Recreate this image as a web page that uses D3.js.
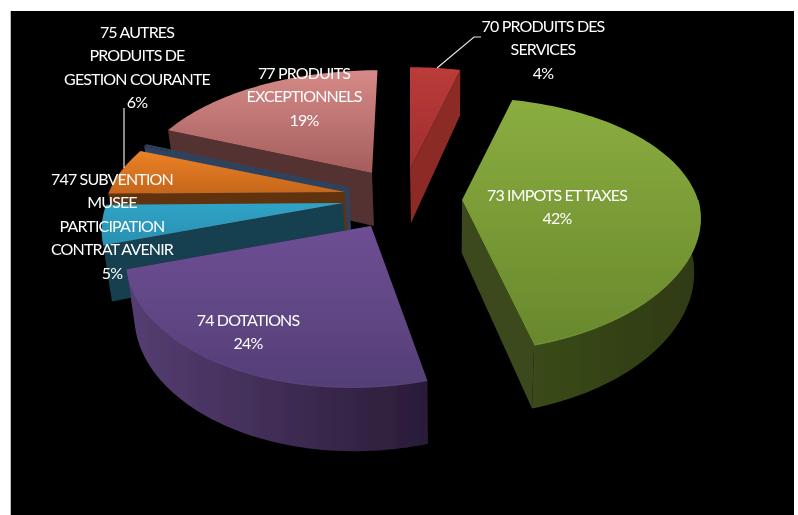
<!DOCTYPE html>
<html><head><meta charset="utf-8">
<style>html,body{margin:0;padding:0;background:#fff}svg{display:block}</style>
<script src="https://cdn.jsdelivr.net/npm/d3@7/dist/d3.min.js"></script>
</head><body><svg id="c" width="798" height="515"></svg>
<script>
// ---- data ----
const categories = ["70 PRODUITS DES SERVICES","73 IMPOTS ET TAXES","74 DOTATIONS","747 SUBVENTION MUSEE PARTICIPATION CONTRAT AVENIR","75 AUTRES PRODUITS DE GESTION COURANTE","","77 PRODUITS EXCEPTIONNELS"];
const values = [4,42,24,5,6,0.3,19];
const percentLabels = ["4%","42%","24%","5%","6%","","19%"];
const labelLines = [
  ["70 PRODUITS DES","SERVICES"],
  ["73 IMPOTS ET TAXES"],
  ["74 DOTATIONS"],
  ["747 SUBVENTION","MUSEE","PARTICIPATION","CONTRAT AVENIR"],
  ["75 AUTRES","PRODUITS DE","GESTION COURANTE"],
  [],
  ["77 PRODUITS","EXCEPTIONNELS"]
];
// ---- style / layout ----
const W=798,H=515;
const centre=[380,195], rx=236, ry=124, depth=53, perspX=0.169, perspY=0.207;
const frontVanish=450, backVanish=410, converge=0.025, nearGain=0.0025, nearMid=213;
const explode=[[30,-25],[82,5],[-9,31],[-37,8],[-35,-3],[-31,-8],[-8,-22]];
const topColors=[["#bb3b39","#9d2e2d"],["#8aad3f","#69882d"],["#6e4f94","#543e76"],["#2fa3c6","#2a90b2"],["#ec8226","#c4661c"],["#2f435d","#2f435d"],["#d68a88","#a45e5c"]];
const wallColors=[["#8c2a28","#8c2a28"],["#3a4a1a","#2e3a14"],["#553e72","#2a1c38"],["#163f4e","#163f4e"],["#61320f","#61320f"],["#2f435d","#2f435d"],["#593634","#593634"]];
const radialColors=["#8c2a28","#3a4a1a","#2a1c38","#144050","#61320f","#2f435d","#553230"];
const labelPos=[[543,32],[557,201],[248,326],[112,185],[137,38],[0,0],[304,79]];
const lineStep=23.4;
const leaders=[[[437,68],[474,37],[481,37]],[[124,168],[124,108]]];

const svg=d3.select("#c");
const defs=svg.append("defs");
defs.append("filter").attr("id","soft").attr("x","-5%").attr("y","-5%").attr("width","110%").attr("height","110%")
  .append("feGaussianBlur").attr("stdDeviation",0.45);
svg.append("rect").attr("x",0).attr("y",0).attr("width",W).attr("height",H).attr("fill","#fff");
svg.append("rect").attr("x",10).attr("y",11).attr("width",1).attr("height",H-11).attr("fill","#bbb");
svg.append("rect").attr("x",11).attr("y",11).attr("width",783).attr("height",H-11).attr("fill","#000");

const pie=d3.pie().sort(null).startAngle(0).endAngle(2*Math.PI);
const arcs=pie(values);
const xs=d3.scaleLinear().domain([-1,1]).range([-rx,rx]);
const ys=d3.scaleLinear().domain([-1,1]).range([ry,-ry]);
// perspective projection of a pie-plane point, r in [0,1], at drop z (0 top, 1 bottom)
function project(i,a,r,z){
  const X=r*Math.sin(a),Y=r*Math.cos(a);
  const ax=centre[0]+explode[i][0],ay=centre[1]+explode[i][1];
  const near=Y<0?1+nearGain*(ay-nearMid)*(-Y):1;
  const sd=1/(1+perspX*Y);
  const sx=near*sd,sy=near/(1+perspY*Y);
  const wx=Y<0?(ax-frontVanish):Math.min(0,ax-backVanish);
  const px=ax+xs(X)*sx+wx*(sx-1);
  const py=ay+ys(Y)*sy+z*depth*sd;
  return [px+z*converge*(frontVanish-px),py];
}
const line=d3.line();
function rim(i,a0,a1,z){
  const n=Math.max(2,Math.ceil((a1-a0)*40));
  return d3.range(n+1).map(k=>project(i,a0+(a1-a0)*k/n,1,z));
}
const grads=(id,c,vert)=>{
  const g=defs.append("linearGradient").attr("id",id).attr("x1",0).attr("y1",0).attr("x2",vert?0:1).attr("y2",vert?1:0);
  g.append("stop").attr("offset","0%").attr("stop-color",c[0]);
  g.append("stop").attr("offset","100%").attr("stop-color",c[1]);
};
arcs.forEach((d,i)=>{grads("t"+i,topColors[i],true);grads("w"+i,wallColors[i],false);});

const chart=svg.append("g").attr("filter","url(#soft)");
// painter's order: back slices first
const order=[6,5,4,3,2,1,0];
order.forEach(i=>{
  const d=arcs[i], g=chart.append("g");
  // radial face that looks towards the viewer
  const faceAngle=d.startAngle>=Math.PI?d.startAngle:d.endAngle;
  g.append("path").attr("d",line([project(i,faceAngle,0,0),project(i,faceAngle,1,0),project(i,faceAngle,1,1),project(i,faceAngle,0,1)])+"Z")
     .attr("fill",radialColors[i]);
  // outer wall: front half only
  const w0=Math.max(d.startAngle,Math.PI/2),w1=Math.min(d.endAngle,3*Math.PI/2);
  if(w1>w0){
    const t=rim(i,w0,w1,0),b=rim(i,w0,w1,1);
    g.append("path").attr("d",line(t.concat(b.slice().reverse()))+"Z").attr("fill",`url(#w${i})`);
  }
  const top=rim(i,d.startAngle,d.endAngle,0);
  g.append("path").attr("d",line([project(i,0,0,0)].concat(top))+"Z").attr("fill",`url(#t${i})`);
  if(i===2||i===1) g.append("path").attr("d",line(rim(i,w0,w1,0))).attr("fill","none").attr("stroke",topColors[i][0]).attr("stroke-width",1).attr("opacity",0.7);
});
// leader lines
chart.selectAll("path.leader").data(leaders).join("path").attr("class","leader")
  .attr("d",d=>line(d)).attr("fill","none").attr("stroke","#e6e6e6").attr("stroke-width",1.2);
// labels
arcs.forEach((d,i)=>{
  const lines=labelLines[i].concat(percentLabels[i]?[percentLabels[i]]:[]);
  if(!lines.length) return;
  const t=chart.append("text").attr("text-anchor","middle").attr("fill","#fff")
    .attr("font-family","Lato, 'Open Sans', sans-serif").attr("font-size",16).attr("letter-spacing",-0.85);
  lines.forEach((s,k)=>t.append("tspan").attr("x",labelPos[i][0]).attr("y",labelPos[i][1]+k*lineStep).text(s));
});
</script></body></html>
